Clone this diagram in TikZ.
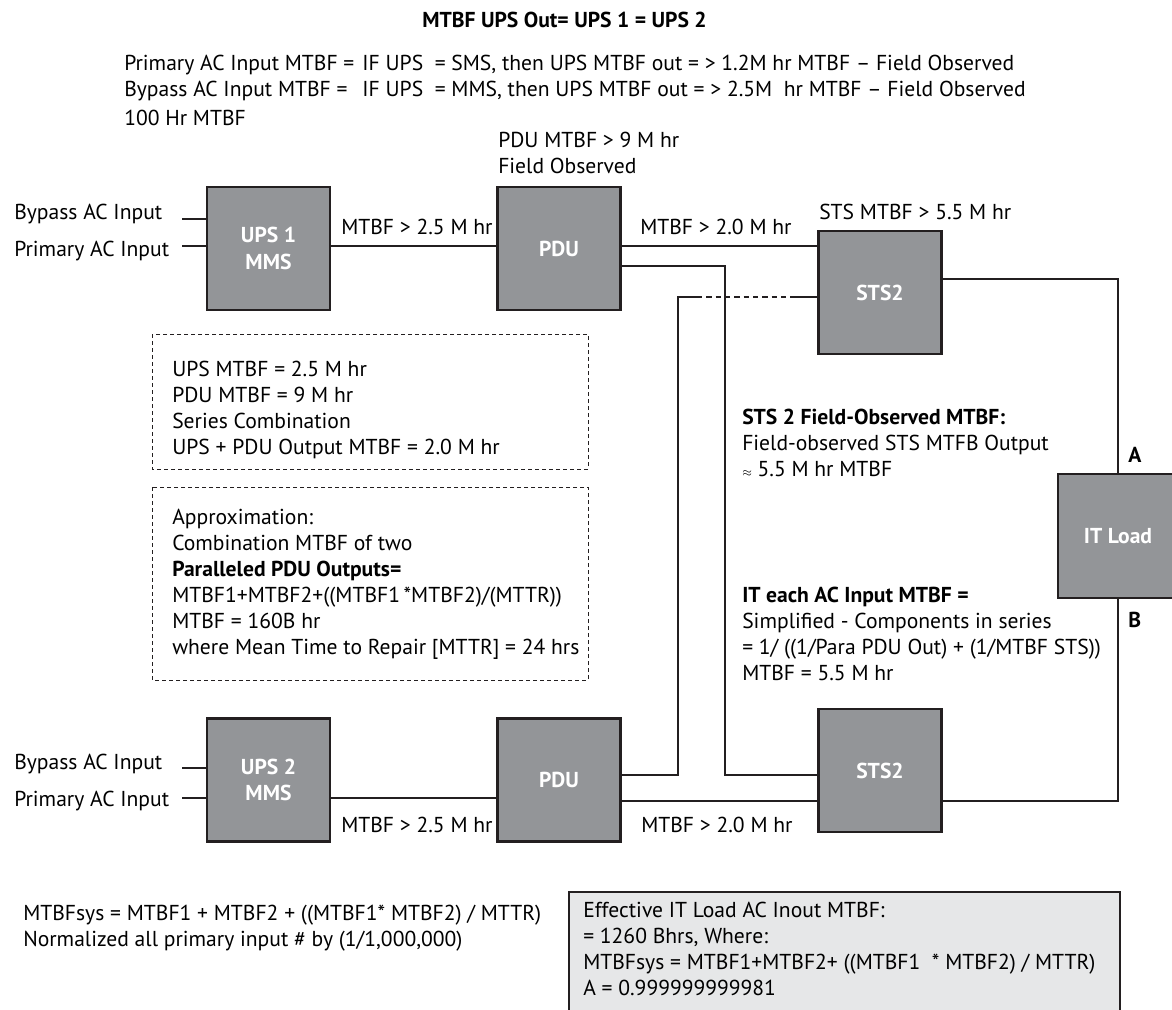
\documentclass[tikz,border=0pt]{standalone}
\usepackage{fontspec}
\setmainfont{PT Sans}
\usepackage{tikz}
\usetikzlibrary{calc}

\definecolor{boxgrey}{RGB}{147,149,152}
\definecolor{edgedark}{RGB}{35,31,32}
\definecolor{notegrey}{RGB}{230,231,232}
\newcommand{\diagfont}{\fontsize{16.2}{19.6}\selectfont}

\tikzset{
  unit/.style={draw=edgedark, fill=boxgrey, line width=2pt, minimum width=92.25pt, minimum height=92.25pt, inner sep=0pt, text=white, font=\diagfont\bfseries, align=center},
  wire/.style={draw=edgedark, line width=1.3pt},
  txt/.style={inner sep=0pt, anchor=base west, font=\diagfont},
  dashbox/.style={draw=edgedark, line width=0.6pt, dash pattern=on 3pt off 2.25pt},
}

\begin{document}
\begin{tikzpicture}[x=0.75pt,y=0.75pt,yscale=-1,xscale=1]
\useasboundingbox (0,0) rectangle (1172,1010);

%Shape: Rectangle [dashed notes]
\draw [dashbox] (152,334) rectangle (588,469) ;
\draw [dashbox] (152,487) rectangle (588,680) ;
%Shape: Rectangle [result note]
\draw [draw=edgedark, fill=notegrey, line width=1.5pt] (569,892) rectangle (1120,1030) ;

%Shape: Units
\draw (268.5,248.5) node [unit] (ups1) {UPS 1\\MMS};
\draw (559,248.5) node [unit] (pdu1) {PDU};
\draw (880,292.5) node [unit] (sts1) {STS2};
\draw (1118,536) node [unit, minimum width=90pt, minimum height=93pt] (itload) {IT Load};
\draw (268.5,780) node [unit] (ups2) {UPS 2\\MMS};
\draw (559,780) node [unit] (pdu2) {PDU};
\draw (880,770.5) node [unit] (sts2) {STS2};

%Straight Lines
\coordinate (byp1) at (182,219);
\coordinate (prm1) at (182,246);
\coordinate (byp2) at (182,768);
\coordinate (prm2) at (182,798);
\coordinate (rgt1) at (725,266);
\coordinate (rgt2) at (725,775);
\coordinate (lft1) at (678,775);
\coordinate (lft2) at (678,297);
\coordinate (dsh1) at (697,297);
\coordinate (dsh2) at (793,297);
\coordinate (outa) at (1118,279);
\coordinate (outb) at (1118,801);

\draw [wire] (byp1) -- (byp1 -| ups1.west) ;
\draw [wire] (prm1) -- (prm1 -| ups1.west) ;
\draw [wire] (ups1.east |- prm1) -- (pdu1.west |- prm1) ;
\draw [wire] (pdu1.east |- prm1) -- (sts1.west |- prm1) ;
\draw [wire] (pdu1.east |- rgt1) -- (rgt1) -- (rgt2) -- (sts2.west |- rgt2) ;
\draw [wire] (pdu2.east |- lft1) -- (lft1) -- (lft2) -- (dsh1) ;
\draw [wire, dash pattern=on 4pt off 3pt] (dsh1) -- (dsh2) ;
\draw [wire] (dsh2) -- (sts1.west |- dsh2) ;
\draw [wire] (sts1.east |- outa) -- (outa) -- (itload.north) ;

\draw [wire] (byp2) -- (byp2 -| ups2.west) ;
\draw [wire] (prm2) -- (prm2 -| ups2.west) ;
\draw [wire] (ups2.east |- prm2) -- (pdu2.west |- prm2) ;
\draw [wire] (pdu2.east |- outb) -- (sts2.west |- outb) ;
\draw [wire] (sts2.east |- outb) -- (outb) -- (itload.south) ;

% Text Node
\draw (422,27) node [txt, font=\diagfont\bfseries] (title) {MTBF UPS Out= UPS 1 = UPS 2};
% Text Node
\draw (124,70) node [txt] (inrule) {\begin{tabular}[t]{@{}l@{\hspace{6pt}}l@{}}
Primary AC Input MTBF = & IF UPS~ = SMS, then UPS MTBF out = > 1.2M hr MTBF -- Field Observed\\
Bypass AC Input MTBF = & IF UPS~ = MMS, then UPS MTBF out = > 2.5M~ hr MTBF -- Field Observed
\end{tabular}};
% Text Node
\draw (124,125) node [txt] (byprate) {100 Hr MTBF};
% Text Node
\draw (498,147) node [txt] (pdurate) {\begin{tabular}[t]{@{}l@{}}PDU MTBF > 9 M hr\\Field Observed\end{tabular}};
% Text Node
\draw (819,219) node [txt] (stsrate) {STS MTBF > 5.5 M hr};

% Text Node
\draw (14,219) node [txt] (byptxt1) {Bypass AC Input};
\draw (14,256) node [txt] (prmtxt1) {Primary AC Input};
\draw (14,769) node [txt] (byptxt2) {Bypass AC Input};
\draw (14,806) node [txt] (prmtxt2) {Primary AC Input};

% Text Node
\draw (341,234) node [txt] (upsout1) {MTBF > 2.5 M hr};
\draw (640,234) node [txt] (pduout1) {MTBF > 2.0 M hr};
\draw (341,832) node [txt] (upsout2) {MTBF > 2.5 M hr};
\draw (641,832) node [txt] (pduout2) {MTBF > 2.0 M hr};

% Text Node
\draw (1128,462) node [txt, font=\diagfont\bfseries] (feeda) {A};
\draw (1128,627) node [txt, font=\diagfont\bfseries] (feedb) {B};

% Text Node
\draw (172,376) node [txt] (series) {\begin{tabular}[t]{@{}l@{}}
UPS MTBF = 2.5 M hr\\
PDU MTBF = 9 M hr\\
Series Combination\\
UPS + PDU Output MTBF = 2.0 M hr
\end{tabular}};
% Text Node
\draw (172,524) node [txt] (parallel) {\begin{tabular}[t]{@{}l@{}}
Approximation:\\
Combination MTBF of two\\
\textbf{Paralleled PDU Outputs=}\\
MTBF1+MTBF2+((MTBF1\,*MTBF2)/(MTTR))\\
MTBF = 160B hr\\
where Mean Time to Repair [MTTR] = 24 hrs
\end{tabular}};

% Text Node
\draw (742,424) node [txt] (stsnote) {\begin{tabular}[t]{@{}l@{}}
\textbf{STS 2 Field-Observed MTBF:}\\
Field-observed STS MTFB Output\\
{\small$\approx$} 5.5 M hr MTBF
\end{tabular}};
% Text Node
\draw (742,602) node [txt] (itnote) {\begin{tabular}[t]{@{}l@{}}
\textbf{IT each AC Input MTBF =}\\
Simplified - Components in series\\
= 1/ ((1/Para PDU Out) + (1/MTBF STS))\\
MTBF = 5.5 M hr
\end{tabular}};

% Text Node
\draw (23,920) node [txt] (sysnote) {\begin{tabular}[t]{@{}l@{}}
MTBFsys = MTBF1 + MTBF2 + ((MTBF1* MTBF2) / MTTR)\\
Normalized all primary input \# by (1/1,000,000)
\end{tabular}};
% Text Node
\draw (583,917) node [txt] (result) {\begin{tabular}[t]{@{}l@{}}
Effective IT Load AC Inout MTBF:\\
= 1260 Bhrs, Where:\\
MTBFsys = MTBF1+MTBF2+ ((MTBF1~ * MTBF2) / MTTR)\\
A = 0.999999999981
\end{tabular}};

\end{tikzpicture}
\end{document}
